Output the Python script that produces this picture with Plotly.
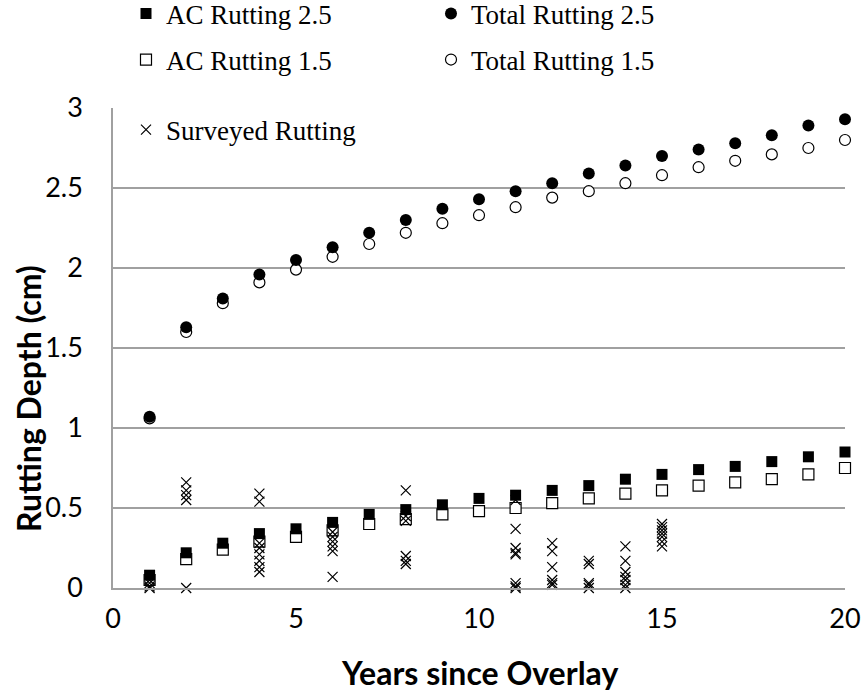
import plotly.graph_objects as go

# Years since overlay for the predicted series
years = list(range(1, 21))

# Predicted rutting (cm)
ac_rut_25 = [0.08, 0.22, 0.28, 0.34, 0.37, 0.41, 0.46, 0.49, 0.52, 0.56,
             0.58, 0.61, 0.64, 0.68, 0.71, 0.74, 0.76, 0.79, 0.82, 0.85]
ac_rut_15 = [0.05, 0.18, 0.24, 0.29, 0.32, 0.36, 0.40, 0.43, 0.46, 0.48,
             0.50, 0.53, 0.56, 0.59, 0.61, 0.64, 0.66, 0.68, 0.71, 0.75]
total_rut_25 = [1.07, 1.63, 1.81, 1.96, 2.05, 2.13, 2.22, 2.30, 2.37, 2.43,
                2.48, 2.53, 2.59, 2.64, 2.70, 2.74, 2.78, 2.83, 2.89, 2.93]
total_rut_15 = [1.06, 1.60, 1.78, 1.91, 1.99, 2.07, 2.15, 2.22, 2.28, 2.33,
                2.38, 2.44, 2.48, 2.53, 2.58, 2.63, 2.67, 2.71, 2.75, 2.80]

# Field survey measurements (cm)
survey_years = ([1] * 4 + [2] * 5 + [4] * 8 + [6] * 6 + [8] * 6 +
                [11] * 8 + [12] * 6 + [13] * 5 + [14] * 7 + [15] * 7)
survey_rut = [0.00, 0.01, 0.03, 0.05,
              0.66, 0.61, 0.58, 0.55, 0.00,
              0.59, 0.54, 0.28, 0.25, 0.21, 0.17, 0.13, 0.10,
              0.35, 0.32, 0.29, 0.26, 0.23, 0.07,
              0.61, 0.45, 0.42, 0.20, 0.17, 0.15,
              0.55, 0.37, 0.25, 0.22, 0.21, 0.03, 0.00, 0.01,
              0.28, 0.23, 0.13, 0.05, 0.03, 0.02,
              0.17, 0.15, 0.03, 0.02, 0.00,
              0.26, 0.17, 0.10, 0.07, 0.05, 0.02, 0.00,
              0.40, 0.38, 0.36, 0.34, 0.32, 0.29, 0.26]

x_ticks = [0, 5, 10, 15, 20]
y_ticks = [0, 0.5, 1, 1.5, 2, 2.5, 3]

GRID = "#a0a0a0"
SERIF = "Liberation Serif"
SANS = "Lato"

fig = go.Figure()

# Open (1.5) series first so the filled (2.5) markers sit on top
fig.add_trace(go.Scatter(
    x=years, y=ac_rut_15, mode="markers", name="AC Rutting 1.5", legend="legend2",
    marker=dict(symbol="square", size=11, color="white", line=dict(color="black", width=1.2)),
    cliponaxis=False))
fig.add_trace(go.Scatter(
    x=years, y=total_rut_15, mode="markers", name="Total Rutting 1.5", legend="legend2",
    marker=dict(symbol="circle", size=11, color="white", line=dict(color="black", width=1.2)),
    cliponaxis=False))
fig.add_trace(go.Scatter(
    x=years, y=ac_rut_25, mode="markers", name="AC Rutting 2.5", legend="legend",
    marker=dict(symbol="square", size=11, color="black", line=dict(width=0)),
    cliponaxis=False))
fig.add_trace(go.Scatter(
    x=years, y=total_rut_25, mode="markers", name="Total Rutting 2.5", legend="legend",
    marker=dict(symbol="circle", size=12, color="black", line=dict(width=0)),
    cliponaxis=False))
fig.add_trace(go.Scatter(
    x=survey_years, y=survey_rut, mode="markers", name="Surveyed Rutting", legend="legend3",
    marker=dict(symbol="x-thin", size=10, color="black", line=dict(color="black", width=1.2)),
    cliponaxis=False))

legend_common = dict(
    orientation="h", xref="container", yref="container",
    xanchor="left", yanchor="middle",
    bgcolor="rgba(0,0,0,0)", borderwidth=0,
    font=dict(family=SERIF, size=27, color="black"),
    entrywidth=260, itemwidth=30, itemclick=False, itemdoubleclick=False,
)

H = 696.0
fig.update_layout(
    width=863, height=696,
    margin=dict(l=113, r=18, t=108, b=108, autoexpand=False),
    paper_bgcolor="white", plot_bgcolor="white",
    showlegend=True,
    legend=dict(x=126 / 863, y=1 - 14 / H, **legend_common),
    legend2=dict(x=126 / 863, y=1 - 60 / H, **legend_common),
    legend3=dict(x=126 / 863, y=1 - 130 / H, **legend_common),
    xaxis=dict(
        range=[0, 20], tickvals=x_ticks, showgrid=False, zeroline=False,
        showline=True, linecolor=GRID, linewidth=1.5, ticks="",
        ticklabelstandoff=6, automargin=False,
        tickfont=dict(family=SANS, size=27, color="black"),
    ),
    yaxis=dict(
        range=[0, 3], tickvals=y_ticks, showgrid=True, gridcolor=GRID, gridwidth=1.5,
        zeroline=False, showline=True, linecolor=GRID, linewidth=1.5, ticks="",
        ticklabelstandoff=23, automargin=False,
        tickfont=dict(family=SANS, size=27, color="black"),
    ),
    annotations=[
        dict(text="<b>Years since Overlay</b>", xref="paper", yref="paper",
             x=0.5, y=(588 - 672) / 480, xanchor="center", yanchor="middle",
             showarrow=False, font=dict(family=SANS, size=32, color="black")),
        dict(text="<b>Rutting Depth (cm)</b>", xref="paper", yref="paper",
             x=(28 - 113) / 732, y=(588 - 399) / 480, xanchor="center", yanchor="middle",
             textangle=-90, showarrow=False,
             font=dict(family=SANS, size=32, color="black")),
    ],
)

fig.write_html("out.html")
